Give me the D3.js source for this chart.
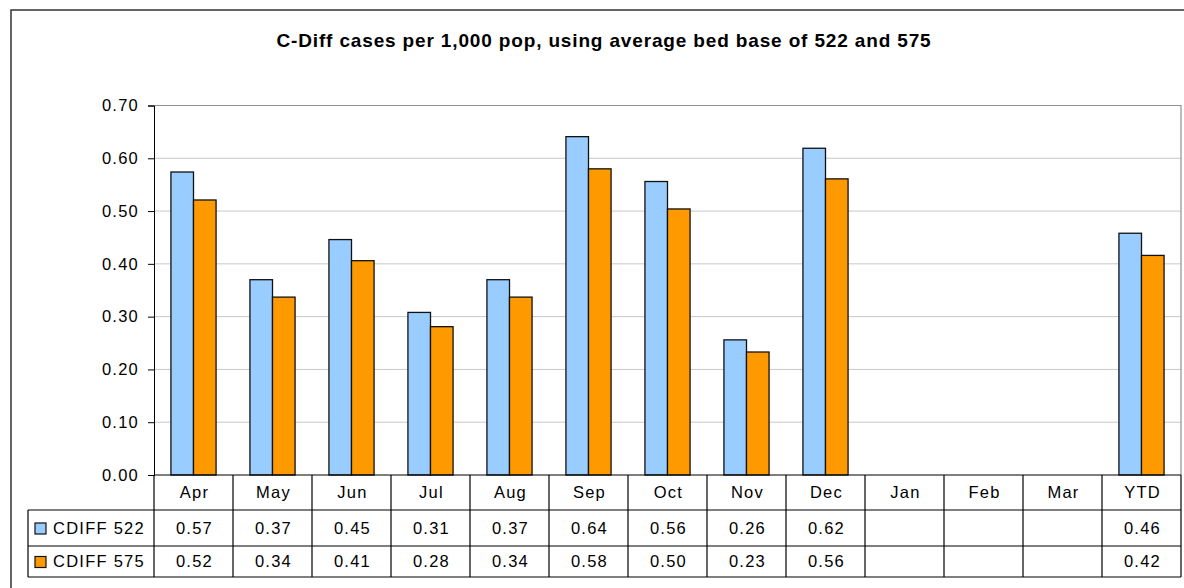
<!DOCTYPE html>
<html lang="en">
    <head>
        <meta charset="utf-8">
        <title>C-Diff cases per 1,000 pop</title>
        <script src="https://d3js.org/d3.v7.min.js"></script>
        <style type="text/css">
            body { margin: 0; background: #fff; }
            text { font-family: "Liberation Sans", Arial, sans-serif; fill: #000; }
            .lbl { font-size: 16.5px; letter-spacing: 1.25px; }
        </style>
    </head>
    <body>
        <svg id="chart" width="1184" height="588"></svg>
        <script>
            //Data
            var months = ['Apr', 'May', 'Jun', 'Jul', 'Aug', 'Sep', 'Oct', 'Nov', 'Dec', 'Jan', 'Feb', 'Mar', 'YTD'];
            var cdiff522 = [0.574, 0.370, 0.446, 0.308, 0.370, 0.641, 0.556, 0.256, 0.619, null, null, null, 0.458];
            var cdiff575 = [0.521, 0.337, 0.406, 0.281, 0.337, 0.580, 0.504, 0.233, 0.561, null, null, null, 0.416];
            var seriesNames = ['CDIFF 522', 'CDIFF 575'];
            var seriesColors = ['#99ccff', '#ff9900'];
            var yTicks = [0, 0.1, 0.2, 0.3, 0.4, 0.5, 0.6, 0.7];
            var title = 'C-Diff cases per 1,000 pop, using average bed base of 522 and 575';

            var series = [cdiff522, cdiff575];

            var svg = d3.select('#chart');
            var fmt = d3.format('.2f');

            //Plot area (don't call it "top", window.top is taken)
            var plotL = 154, plotR = 1181, plotT = 105.5, plotB = 475;
            var tableLeft = 28;
            var rowEdges = [475, 510, 546, 577];

            //Outer chart border
            svg.append('rect')
                .attr('x', 11).attr('y', 10)
                .attr('width', 1200).attr('height', 600)
                .attr('fill', 'none')
                .attr('stroke', '#333')
                .attr('stroke-width', 1.5);

            //Title
            svg.append('text')
                .attr('x', 604)
                .attr('y', 47)
                .attr('text-anchor', 'middle')
                .style('font-size', '19px')
                .style('font-weight', 'bold')
                .style('letter-spacing', '0.85px')
                .text(title);

            var xScale = d3.scaleBand()
                .domain(months)
                .range([plotL, plotR]);

            //gap width 150% like excel
            var barW = xScale.bandwidth() / 3.5;
            var barOff = barW * 0.75;

            var yScale = d3.scaleLinear()
                .domain([0, 0.7])
                .range([plotB, plotT]);

            //Gridlines
            svg.append('g')
                .selectAll('line')
                .data(yTicks.slice(1, -1))
                .enter()
                .append('line')
                .attr('x1', plotL).attr('x2', plotR)
                .attr('y1', function(d) { return yScale(d); })
                .attr('y2', function(d) { return yScale(d); })
                .attr('stroke', '#c8c8c8')
                .attr('stroke-width', 1);

            //Plot area border top and right
            svg.append('path')
                .attr('d', 'M' + plotL + ',' + plotT + 'H' + plotR + 'V' + plotB)
                .attr('fill', 'none')
                .attr('stroke', '#909090')
                .attr('stroke-width', 1.2);

            //Bars
            series.forEach(function(vals, si) {
                svg.append('g')
                    .selectAll('rect')
                    .data(vals.map(function(v, i) { return {m: months[i], v: v}; })
                              .filter(function(d) { return d.v !== null; }))
                    .enter()
                    .append('rect')
                    .attr('x', function(d) { return xScale(d.m) + barOff + si * barW; })
                    .attr('y', function(d) { return yScale(d.v); })
                    .attr('width', barW)
                    .attr('height', function(d) { return plotB - yScale(d.v); })
                    .attr('fill', seriesColors[si])
                    .attr('stroke', '#111')
                    .attr('stroke-width', 1.3);
            });

            //Y axis
            var yAxis = d3.axisLeft(yScale)
                .tickValues(yTicks)
                .tickSize(6)
                .tickPadding(9)
                .tickFormat(fmt);

            var yG = svg.append('g')
                .attr('transform', 'translate(' + plotL + ',0)')
                .call(yAxis);
            yG.select('.domain').attr('stroke', '#000');
            yG.selectAll('.tick line').attr('stroke', '#000');
            yG.selectAll('.tick text')
                .attr('class', 'lbl')
                .attr('fill', '#000')
                .style('font-family', '"Liberation Sans", Arial, sans-serif');

            //Data table lines
            var tbl = svg.append('g')
                .attr('stroke', '#000')
                .attr('stroke-width', 1.2);
            tbl.append('line')
                .attr('x1', plotL).attr('x2', plotR)
                .attr('y1', plotB).attr('y2', plotB);
            rowEdges.slice(1).forEach(function(y) {
                tbl.append('line')
                    .attr('x1', tableLeft).attr('x2', plotR)
                    .attr('y1', y).attr('y2', y);
            });
            tbl.append('line')
                .attr('x1', tableLeft).attr('x2', tableLeft)
                .attr('y1', rowEdges[1]).attr('y2', rowEdges[3]);
            tbl.selectAll('.col')
                .data(months)
                .enter()
                .append('line')
                .attr('x1', function(d) { return xScale(d) + xScale.bandwidth(); })
                .attr('x2', function(d) { return xScale(d) + xScale.bandwidth(); })
                .attr('y1', plotB).attr('y2', rowEdges[3]);
            tbl.append('line')
                .attr('x1', plotL).attr('x2', plotL)
                .attr('y1', plotB).attr('y2', rowEdges[3]);

            //Category labels
            svg.append('g')
                .selectAll('text')
                .data(months)
                .enter()
                .append('text')
                .attr('class', 'lbl')
                .attr('x', function(d) { return xScale(d) + xScale.bandwidth() / 2 + 1; })
                .attr('y', (rowEdges[0] + rowEdges[1]) / 2)
                .attr('dy', '0.35em')
                .attr('text-anchor', 'middle')
                .text(function(d) { return d; });

            //Table rows with legend keys
            series.forEach(function(vals, si) {
                var cy = (rowEdges[si + 1] + rowEdges[si + 2]) / 2;
                svg.append('rect')
                    .attr('x', 35).attr('y', cy - 5)
                    .attr('width', 11).attr('height', 11)
                    .attr('fill', seriesColors[si])
                    .attr('stroke', '#111')
                    .attr('stroke-width', 1.2);
                svg.append('text')
                    .attr('class', 'lbl')
                    .attr('x', 53)
                    .attr('y', cy)
                    .attr('dy', '0.35em')
                    .text(seriesNames[si]);
                svg.append('g')
                    .selectAll('text')
                    .data(vals.map(function(v, i) { return {m: months[i], v: v}; })
                              .filter(function(d) { return d.v !== null; }))
                    .enter()
                    .append('text')
                    .attr('class', 'lbl')
                    .attr('x', function(d) { return xScale(d.m) + xScale.bandwidth() / 2 + 1; })
                    .attr('y', cy)
                    .attr('dy', '0.35em')
                    .attr('text-anchor', 'middle')
                    .text(function(d) { return fmt(d.v); });
            });
        </script>
    </body>
</html>
